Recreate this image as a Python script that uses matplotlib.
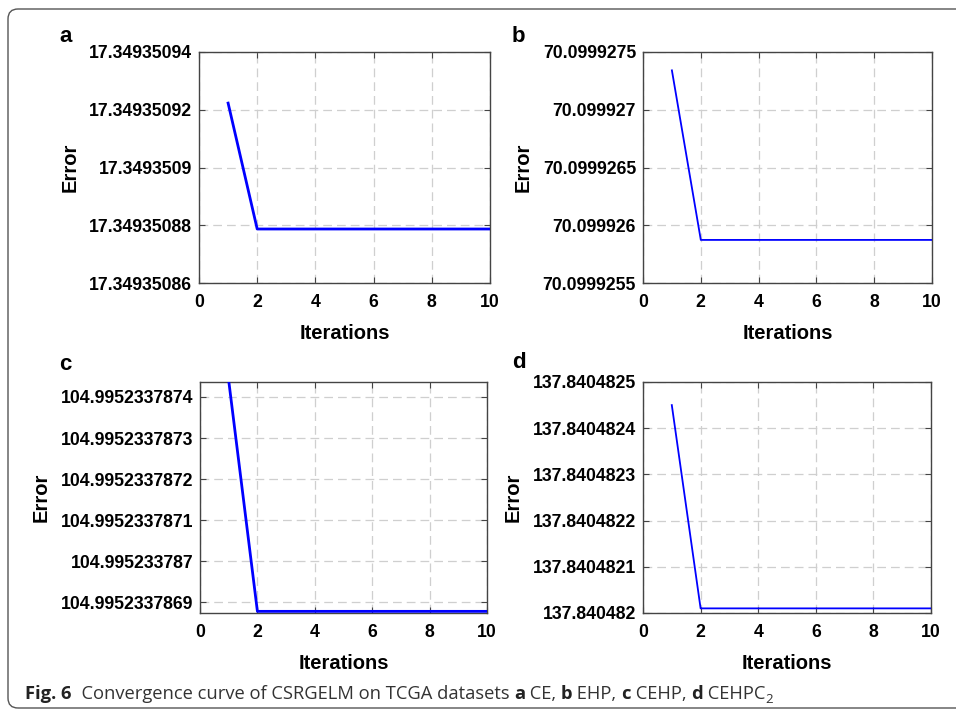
import matplotlib
matplotlib.use("Agg")
import matplotlib.pyplot as plt
from matplotlib.patches import FancyBboxPatch

plt.rcParams["font.family"] = ["Liberation Sans", "DejaVu Sans"]
plt.rcParams["font.weight"] = "bold"
plt.rcParams["axes.labelweight"] = "bold"

# data
iterations = [1, 2, 3, 4, 5, 6, 7, 8, 9, 10]

err_a = [17.3493509223, 17.3493508787, 17.3493508787, 17.3493508787, 17.3493508787,
         17.3493508787, 17.3493508787, 17.3493508787, 17.3493508787, 17.3493508787]
err_b = [70.0999273410, 70.0999258730, 70.0999258730, 70.0999258730, 70.0999258730,
         70.0999258730, 70.0999258730, 70.0999258730, 70.0999258730, 70.0999258730]
err_c = [104.9952337874400, 104.9952337868780, 104.9952337868780, 104.9952337868780,
         104.9952337868780, 104.9952337868780, 104.9952337868780, 104.9952337868780,
         104.9952337868780, 104.9952337868780]
err_d = [137.84048245, 137.84048201, 137.84048201, 137.84048201, 137.84048201,
         137.84048201, 137.84048201, 137.84048201, 137.84048201, 137.84048201]

yticks_a = [17.34935086, 17.34935088, 17.3493509, 17.34935092, 17.34935094]
ylabels_a = ["17.34935086", "17.34935088", "17.3493509", "17.34935092", "17.34935094"]
yticks_b = [70.0999255, 70.099926, 70.0999265, 70.099927, 70.0999275]
ylabels_b = ["70.0999255", "70.099926", "70.0999265", "70.099927", "70.0999275"]
yticks_c = [104.9952337869, 104.995233787, 104.9952337871, 104.9952337872,
            104.9952337873, 104.9952337874]
ylabels_c = ["104.9952337869", "104.995233787", "104.9952337871", "104.9952337872",
             "104.9952337873", "104.9952337874"]
yticks_d = [137.840482, 137.8404821, 137.8404822, 137.8404823, 137.8404824, 137.8404825]
ylabels_d = ["137.840482", "137.8404821", "137.8404822", "137.8404823",
             "137.8404824", "137.8404825"]

xticks = [0, 2, 4, 6, 8, 10]

W, H = 956, 710
fig = plt.figure(figsize=(W / 100, H / 100), dpi=100)

# outer rounded frame (runs off the right edge)
frame = FancyBboxPatch((0.08, 0.02), 9.62, 6.99, boxstyle="round,pad=0,rounding_size=0.1",
                       transform=fig.dpi_scale_trans, fill=False, ec="#555555", lw=1.0)
fig.patches.append(frame)


def px_axes(l, t, r, b):
    return fig.add_axes([l / W, 1 - b / H, (r - l) / W, (b - t) / H])


panels = [
    ("a", (199, 52, 490, 283), err_a, yticks_a, ylabels_a,
     (17.34935086, 17.34935094), 2.0, (59, 37)),
    ("b", (643, 52, 932, 283), err_b, yticks_b, ylabels_b,
     (70.0999255, 70.0999275), 1.3, (512, 37)),
    ("c", (200, 382, 487, 613), err_c, yticks_c, ylabels_c,
     (104.995233786874, 104.9952337874365), 2.0, (59, 364)),
    ("d", (643, 382, 931, 613), err_d, yticks_d, ylabels_d,
     (137.840482, 137.8404825), 1.3, (512, 363)),
]

for letter, box, err, yt, yl, ylim, lw, lpos in panels:
    ax = px_axes(*box)
    ax.plot(iterations, err, color="#0000ff", lw=lw, zorder=3)
    ax.set_xlim(0, 10)
    ax.set_ylim(*ylim)
    ax.set_xticks(xticks)
    ax.set_yticks(yt, labels=yl)
    ax.grid(True, linestyle=(0, (7, 4)), color="#cfcfcf", lw=0.9)
    ax.set_axisbelow(True)
    ax.tick_params(direction="in", top=True, right=True, length=4, width=0.8,
                   labelsize=12.7, colors="#444444", labelcolor="black")
    ax.tick_params(axis="x", pad=8)
    ax.tick_params(axis="y", pad=5)
    for sp in ax.spines.values():
        sp.set_color("#444444")
        sp.set_linewidth(1.0)
    ax.set_xlabel("Iterations", fontsize=14.5, labelpad=9)
    ax.set_ylabel("Error", fontsize=14.5, labelpad=7)
    fig.text(lpos[0] / W, 1 - lpos[1] / H, letter, fontsize=16, fontweight="bold",
             ha="left", va="center")

# caption with mixed weights
segments = [
    ("Fig. 6", "bold", 0),
    ("  Convergence curve of CSRGELM on TCGA datasets ", "normal", 0),
    ("a", "bold", 0), (" CE, ", "normal", 0),
    ("b", "bold", 0), (" EHP, ", "normal", 0),
    ("c", "bold", 0), (" CEHP, ", "normal", 0),
    ("d", "bold", 0), (" CEHPC", "normal", 0),
    ("2", "normal", 1),
]
renderer = fig.canvas.get_renderer()
x = 25
base_y = 699
for txt, wt, sub in segments:
    size = 9.5 if sub else 13.2
    y = base_y + (4 if sub else 0)
    t = fig.text(x / W, 1 - y / H, txt, fontsize=size, fontweight=wt,
                 family=["Open Sans", "DejaVu Sans"], color="#222222" if wt == "bold" else "#333333",
                 ha="left", va="baseline")
    bb = t.get_window_extent(renderer=renderer)
    x += bb.width

fig.savefig("out.png", dpi=100)
